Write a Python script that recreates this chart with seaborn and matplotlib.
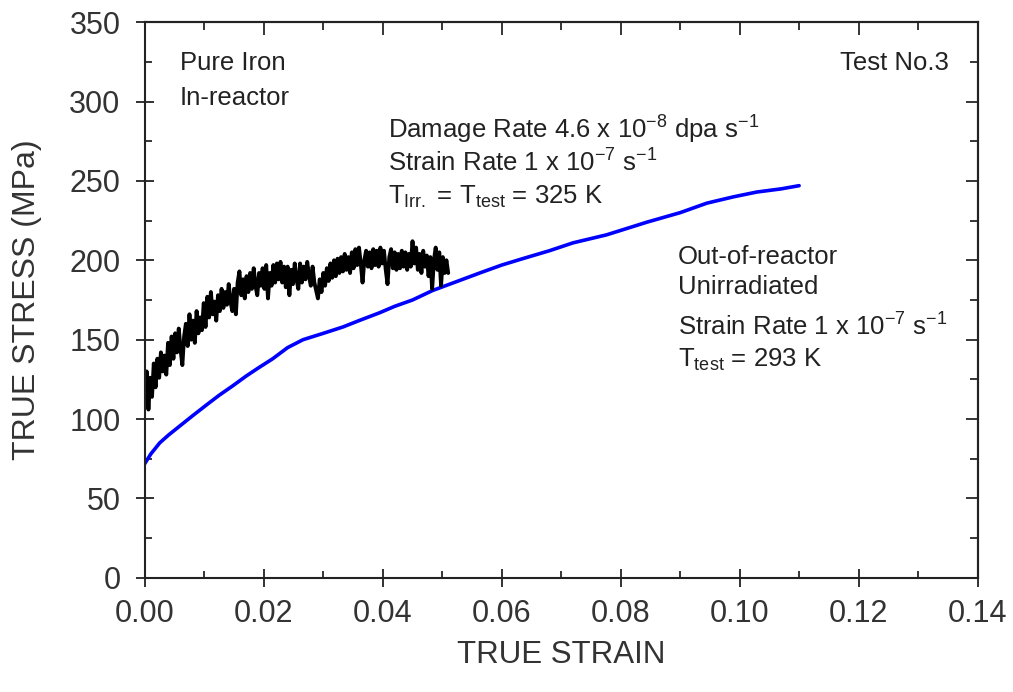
import matplotlib
matplotlib.use("Agg")
import matplotlib.pyplot as plt
from matplotlib.ticker import MultipleLocator
import seaborn as sns
import pandas as pd

# in-reactor test (noisy black trace)
black_strain = [
    0.0000, 0.0003, 0.0006, 0.0009, 0.0012, 0.0015, 0.0018, 0.0021, 0.0024, 0.0027,
    0.0030, 0.0033, 0.0036, 0.0039, 0.0042, 0.0045, 0.0048, 0.0051, 0.0054, 0.0057,
    0.0060, 0.0063, 0.0066, 0.0069, 0.0072, 0.0075, 0.0078, 0.0081, 0.0084, 0.0087,
    0.0090, 0.0093, 0.0096, 0.0099, 0.0102, 0.0105, 0.0108, 0.0111, 0.0114, 0.0117,
    0.0120, 0.0123, 0.0126, 0.0129, 0.0132, 0.0135, 0.0138, 0.0141, 0.0144, 0.0147,
    0.0150, 0.0153, 0.0156, 0.0159, 0.0162, 0.0165, 0.0168, 0.0171, 0.0174, 0.0177,
    0.0180, 0.0183, 0.0186, 0.0189, 0.0192, 0.0195, 0.0198, 0.0201, 0.0204, 0.0207,
    0.0210, 0.0213, 0.0216, 0.0219, 0.0222, 0.0225, 0.0228, 0.0231, 0.0234, 0.0237,
    0.0240, 0.0243, 0.0246, 0.0249, 0.0252, 0.0255, 0.0258, 0.0261, 0.0264, 0.0267,
    0.0270, 0.0273, 0.0276, 0.0279, 0.0282, 0.0285, 0.0288, 0.0291, 0.0294, 0.0297,
    0.0300, 0.0303, 0.0306, 0.0309, 0.0312, 0.0315, 0.0318, 0.0321, 0.0324, 0.0327,
    0.0330, 0.0333, 0.0336, 0.0339, 0.0342, 0.0345, 0.0348, 0.0351, 0.0354, 0.0357,
    0.0360, 0.0363, 0.0366, 0.0369, 0.0372, 0.0375, 0.0378, 0.0381, 0.0384, 0.0387,
    0.0390, 0.0393, 0.0396, 0.0399, 0.0402, 0.0405, 0.0408, 0.0411, 0.0414, 0.0417,
    0.0420, 0.0423, 0.0426, 0.0429, 0.0432, 0.0435, 0.0438, 0.0441, 0.0444, 0.0447,
    0.0450, 0.0453, 0.0456, 0.0459, 0.0462, 0.0465, 0.0468, 0.0471, 0.0474, 0.0477,
    0.0480, 0.0483, 0.0486, 0.0489, 0.0492, 0.0495, 0.0498, 0.0501, 0.0504, 0.0507,
    0.0510,
]
black_stress = [
    108, 130, 106, 126, 114, 135, 120, 138, 126, 142,
    130, 140, 128, 148, 134, 152, 138, 154, 142, 157,
    144, 134, 152, 160, 146, 166, 150, 162, 148, 168,
    154, 164, 156, 173, 158, 177, 164, 180, 166, 174,
    162, 178, 168, 182, 170, 180, 172, 185, 174, 168,
    182, 166, 186, 193, 178, 188, 176, 190, 180, 192,
    182, 195, 184, 178, 192, 184, 195, 182, 197, 176,
    192, 184, 197, 186, 198, 188, 199, 186, 196, 183,
    196, 178, 194, 185, 198, 188, 182, 198, 186, 196,
    188, 199, 190, 184, 196, 186, 181, 176, 188, 180,
    192, 184, 195, 187, 198, 189, 200, 190, 201, 192,
    202, 193, 204, 194, 202, 192, 205, 195, 207, 197,
    208, 198, 186, 200, 206, 196, 205, 195, 207, 197,
    206, 196, 208, 198, 206, 194, 185, 202, 207, 195,
    205, 194, 204, 195, 206, 196, 205, 194, 204, 196,
    212, 198, 208, 194, 204, 192, 206, 196, 203, 190,
    202, 182, 200, 208, 194, 205, 184, 202, 192, 200,
    192,
]

# out-of-reactor unirradiated test (blue trace)
blue_strain = [
    0.0000, 0.0010, 0.0025, 0.0040, 0.0060, 0.0080, 0.0104, 0.0125, 0.0148, 0.0170,
    0.0190, 0.0215, 0.0240, 0.0266, 0.0300, 0.0333, 0.0360, 0.0395, 0.0420, 0.0450,
    0.0484, 0.0520, 0.0563, 0.0600, 0.0635, 0.0680, 0.0720, 0.0776, 0.0810, 0.0844,
    0.0900, 0.0945, 0.0990, 0.1029, 0.1070, 0.1100,
]
blue_stress = [
    72, 78, 85, 90, 96, 102, 109, 115, 121, 127,
    132, 138, 145, 150, 154, 158, 162, 167, 171, 175,
    181, 186, 192, 197, 201, 206, 211, 216, 220, 224,
    230, 236, 240, 243, 245, 247,
]

x_ticks = [0.00, 0.02, 0.04, 0.06, 0.08, 0.10, 0.12, 0.14]
y_ticks = [0, 50, 100, 150, 200, 250, 300, 350]

sns.set_theme(style="ticks")
plt.rcParams["font.family"] = ["Liberation Sans", "DejaVu Sans"]
plt.rcParams["mathtext.fontset"] = "custom"
plt.rcParams["mathtext.rm"] = "Liberation Sans"
plt.rcParams["mathtext.it"] = "Liberation Sans"
plt.rcParams["mathtext.default"] = "regular"

df_black = pd.DataFrame({"strain": black_strain, "stress": black_stress})
df_blue = pd.DataFrame({"strain": blue_strain, "stress": blue_stress})

fig = plt.figure(figsize=(10.13, 6.92), dpi=100)
ax = fig.add_axes([0.143, 0.165, 0.822, 0.803])

sns.lineplot(data=df_blue, x="strain", y="stress", color="#0000ff",
             linewidth=2.6, sort=False, estimator=None, ax=ax)
sns.lineplot(data=df_black, x="strain", y="stress", color="black",
             linewidth=2.8, sort=False, estimator=None, ax=ax)

ax.set_xlim(0, 0.14)
ax.set_ylim(0, 350)
ax.set_xticks(x_ticks)
ax.set_xticklabels([f"{v:.2f}" for v in x_ticks])
ax.set_yticks(y_ticks)
ax.xaxis.set_minor_locator(MultipleLocator(0.01))
ax.yaxis.set_minor_locator(MultipleLocator(25))
ax.tick_params(which="major", direction="inout", length=13, width=1.3,
               labelsize=22, labelcolor="#333333", color="#222222")
ax.tick_params(axis="x", which="major", pad=9)
ax.tick_params(axis="y", which="major", pad=11)
ax.tick_params(which="minor", direction="in", length=5, width=1.3)
for sp in ax.spines.values():
    sp.set_linewidth(1.5)
    sp.set_color("#222222")

# inward ticks on top and right
top = ax.secondary_xaxis("top")
top.set_xticks(x_ticks)
top.xaxis.set_minor_locator(MultipleLocator(0.01))
top.tick_params(which="major", direction="in", length=9, width=1.3, labeltop=False)
top.tick_params(which="minor", direction="in", length=6, width=1.3)
top.spines["top"].set_linewidth(1.5)
right = ax.secondary_yaxis("right")
right.set_yticks(y_ticks)
right.yaxis.set_minor_locator(MultipleLocator(25))
right.tick_params(which="major", direction="in", length=9, width=1.3, labelright=False)
right.tick_params(which="minor", direction="in", length=6, width=1.3)
right.spines["right"].set_linewidth(1.5)

ax.set_xlabel("TRUE STRAIN", fontsize=22.5, color="#333333", labelpad=8)
ax.set_ylabel("TRUE STRESS (MPa)", fontsize=23, color="#333333", labelpad=20)

txt = dict(fontsize=18.5, color="#222222")
ax.text(0.0059, 324, "Pure Iron", va="center", **txt)
ax.text(0.0059, 302, "In-reactor", va="center", **txt)
ax.text(0.1352, 324, "Test No.3", va="center", ha="right", **txt)
ax.text(0.0408, 282, r"Damage Rate 4.6 x 10$^{-8}$ dpa s$^{-1}$", va="center", **txt)
ax.text(0.0408, 261, r"Strain Rate 1 x 10$^{-7}$ s$^{-1}$", va="center", **txt)
ax.text(0.0408, 240, r"T$_{Irr.}$ = T$_{test}$ = 325 K", va="center", **txt)
ax.text(0.0896, 202, "Out-of-reactor", va="center", **txt)
ax.text(0.0896, 183, "Unirradiated", va="center", **txt)
ax.text(0.0896, 158, r"Strain Rate 1 x 10$^{-7}$ s$^{-1}$", va="center", **txt)
ax.text(0.0896, 137, r"T$_{test}$ = 293 K", va="center", **txt)

fig.savefig("out.png", dpi=100)
